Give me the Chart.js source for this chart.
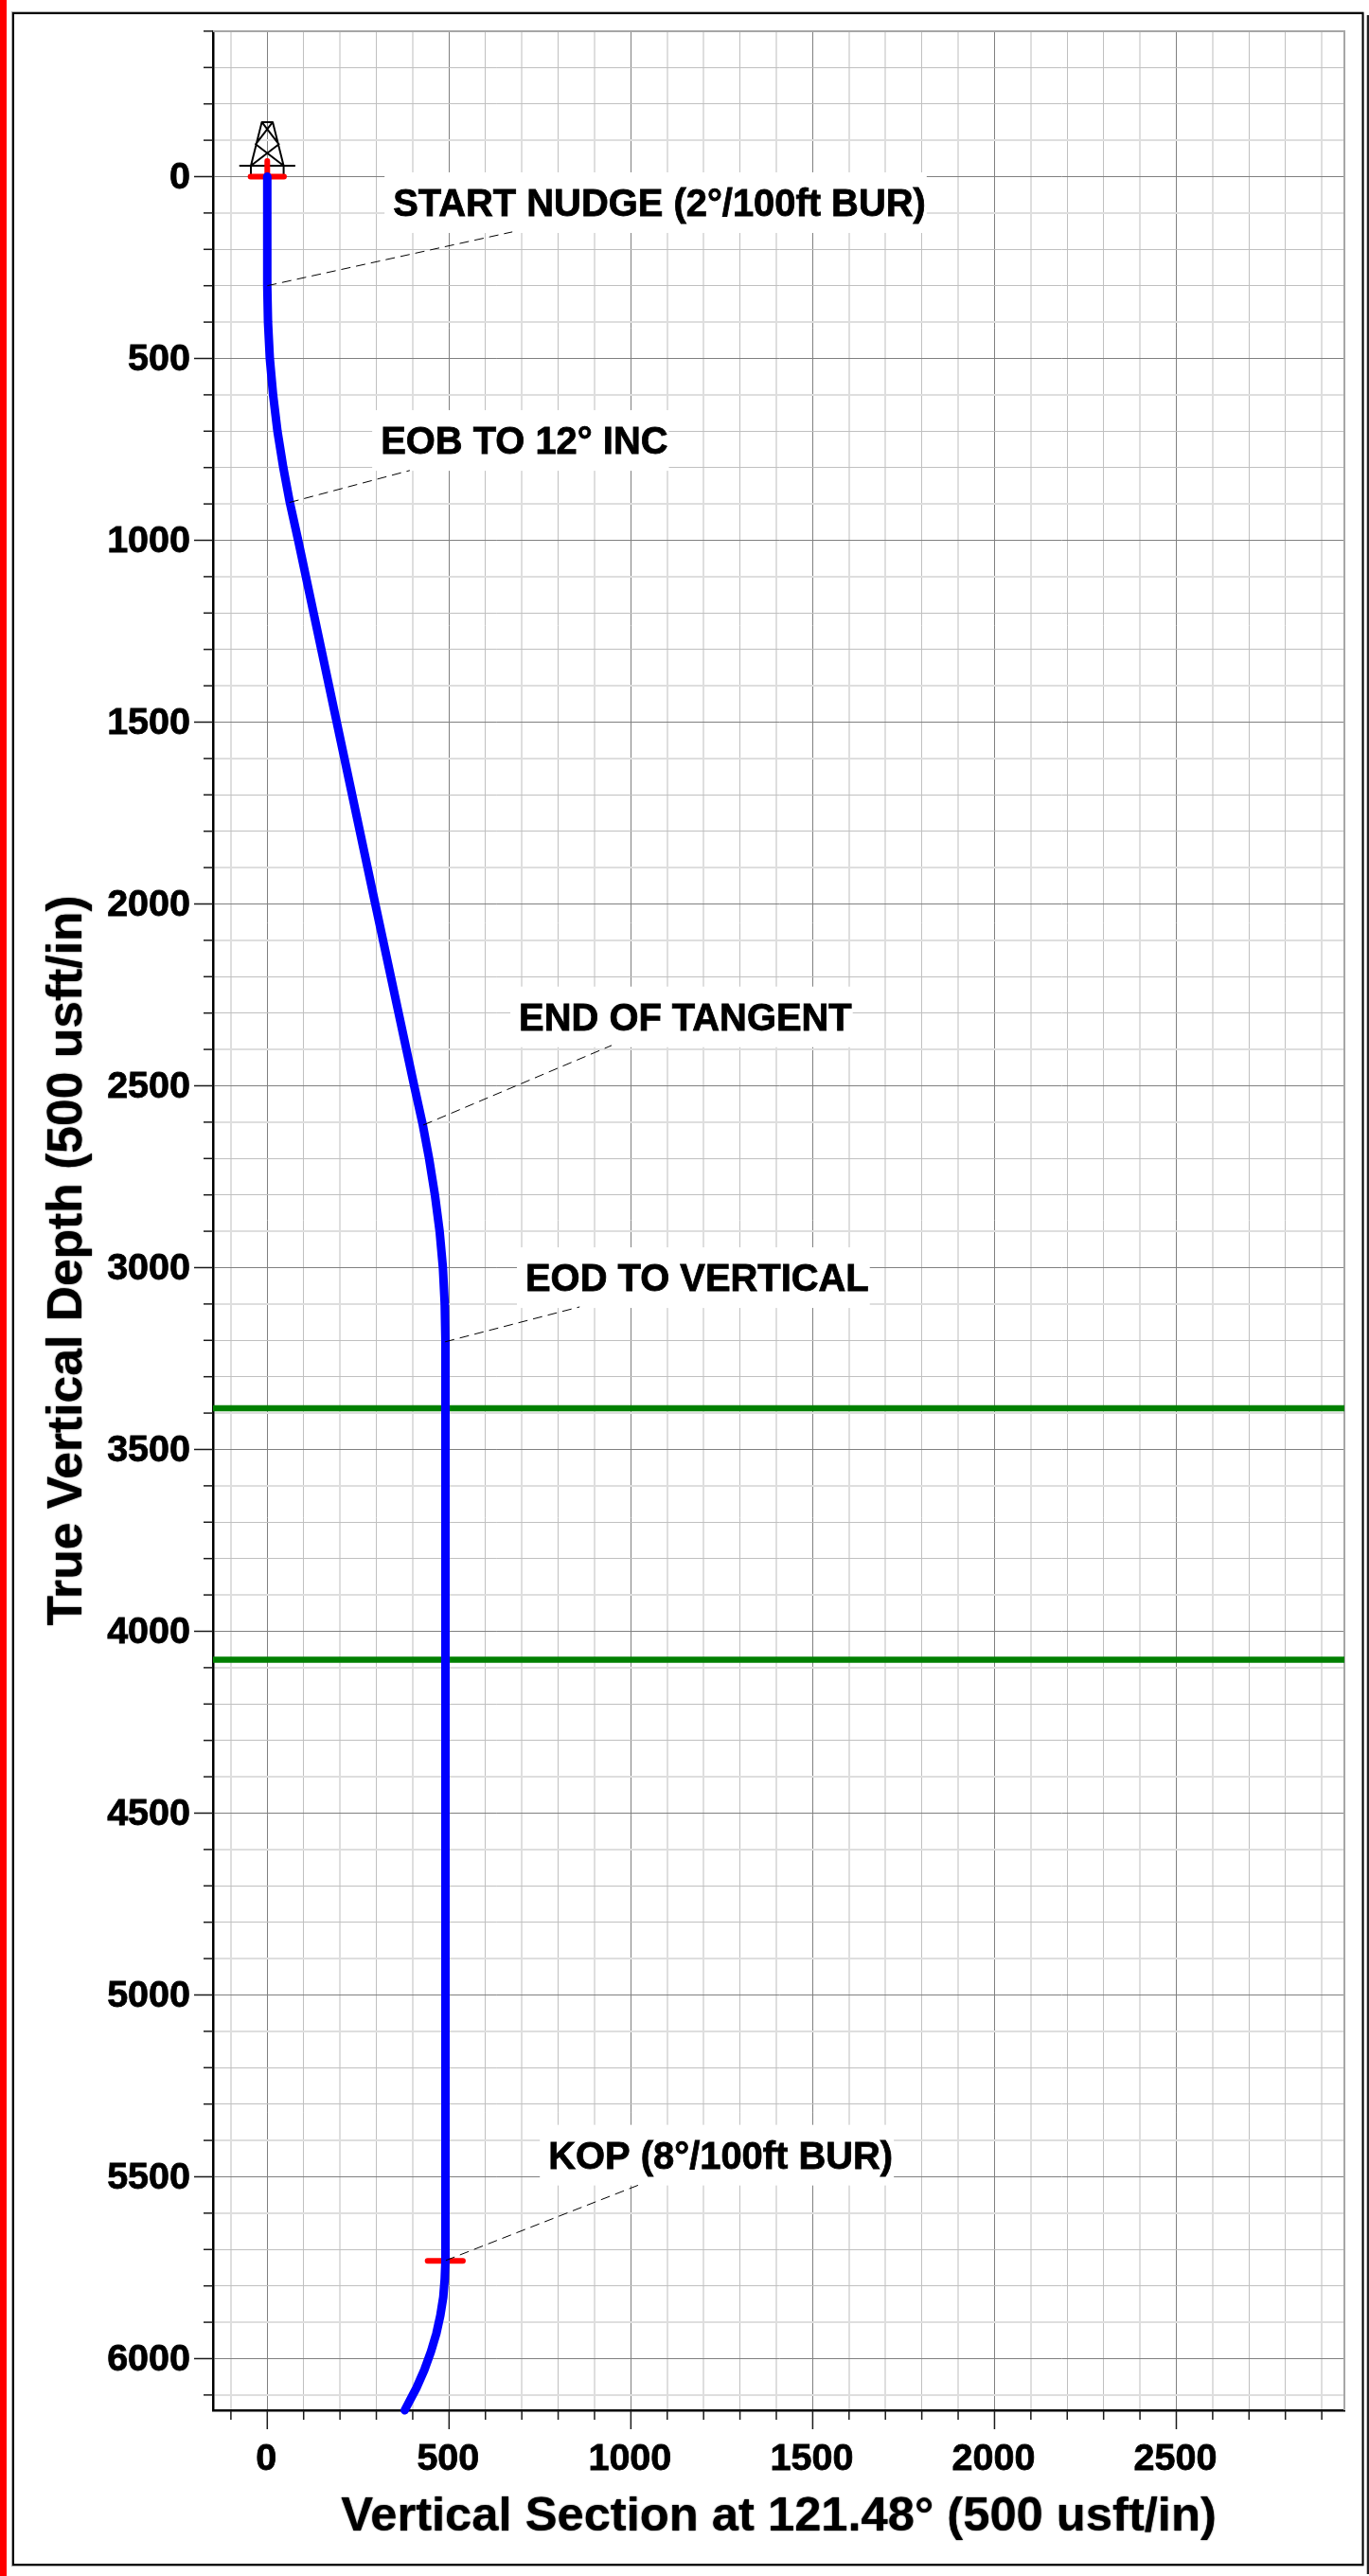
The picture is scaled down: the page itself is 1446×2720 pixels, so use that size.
<!DOCTYPE html>
<html>
<head>
<meta charset="utf-8">
<style>html,body{margin:0;padding:0;background:#fff}canvas{display:block}</style>
<script src="https://cdn.jsdelivr.net/npm/chart.js@4/dist/chart.umd.min.js"></script>
</head>
<body>
<canvas id="c" width="1446" height="2720"></canvas>
<script>
const wellTvd = [0,300,400,500,600,700,800,896,1000,1500,2000,2500,2609,2700,2800,2900,3000,3100,3205,4000,5000,5731,5781,5831,5881,5931,5981,6031,6081,6142];
const wellVs  = [0,0,2,7,16,28,44,62,85,191,297,404,428,445,461,474,483,488,490,490,490,490,488,484,476,465,450,432,410,378];
const formationTvd = [3387,4078];
const kopVs = [441,538];
const kopTvd = 5731;
const surfaceBarVs = [-46,46];
const surfaceStemTvd = [0,-43];
const rigVs  = [-77,77,null,-45,-45,-15,15,45,45,null,-15,32,-45,null,15,-32,45];
const rigTvd = [-30,-30,null,0,-30,-150,-150,-30,0,null,-150,-89,-30,null,-150,-89,-30];
const labelTexts = ["START NUDGE (2°/100ft BUR)","EOB TO 12° INC","END OF TANGENT","EOD TO VERTICAL","KOP (8°/100ft BUR)"];
const labelVs  = [346,312,692,710,773];
const labelTvd = [108,762,2347,3064,5477];
const leaderVs  = [[0,674],[61,392],[429,947],[489,859],[491,1023]];
const leaderTvd = [[300,152],[896,808],[2608,2389],[3204,3108],[5730,5522]];
const xTitle = "Vertical Section at 121.48° (500 usft/in)";
const yTitle = "True Vertical Depth (500 usft/in)";
const xRange = [-149.2,2962.2];
const yRange = [-400,6142];
const minorStep = 100, majorStep = 500;

const FONT = '"Liberation Sans", Arial, sans-serif';
const pts = (xs,ys)=>xs.map((x,i)=>({x,y:ys[i]}));
const leaderPoints = [];
leaderVs.forEach((xs,i)=>{ leaderPoints.push(...pts(xs,leaderTvd[i])); if(i<leaderVs.length-1) leaderPoints.push({x:null,y:null}); });
const redPoints = [
  ...pts(surfaceBarVs,[0,0]),{x:null,y:null},
  ...pts([0,0],surfaceStemTvd),{x:null,y:null},
  ...pts(kopVs,[kopTvd,kopTvd])
];
const greenPoints = [];
formationTvd.forEach((t,i)=>{ greenPoints.push({x:xRange[0],y:t},{x:xRange[1],y:t}); if(i===0) greenPoints.push({x:null,y:null}); });

const gridStyle = (ctx,major,wide,narrow)=>{
  if(ctx.tick.value % majorStep===0) return major;
  const p = ctx.scale.getPixelForValue(ctx.tick.value);
  const d = Math.abs(p-Math.floor(p)-0.5);
  return d>=0.25 ? wide : narrow;
};
const tickLabel = v => v % majorStep===0 ? String(v) : '';

const decor = {
  id:'decor',
  afterLayout(chart){
    const wrap = (s,dy)=>{
      if(s._wrapped) return;
      const orig = s.drawTitle;
      s.drawTitle = function(){
        const c = this.ctx; c.save(); c.translate(0,dy);
        c.shadowColor='rgba(0,0,0,0.9)'; c.shadowBlur=1.5;
        orig.call(this); c.restore();
      };
      s._wrapped = true;
    };
    wrap(chart.scales.y,42);
    wrap(chart.scales.x,0);
  },
  beforeDraw(chart){
    const c = chart.ctx;
    c.save();
    c.fillStyle='#fff'; c.fillRect(0,0,1446,2720);
    c.fillStyle='#ff0000'; c.fillRect(0,0,7,2720);
    c.strokeStyle='#aaa'; c.lineWidth=1;
    c.strokeRect(12.5,12.5,1427.5,2697);
    c.strokeStyle='#000'; c.lineWidth=2;
    c.strokeRect(14,14,1425.5,2694);
    c.strokeStyle='#222'; c.lineWidth=2.5;
    c.beginPath(); c.moveTo(1445,16); c.lineTo(1445,2718); c.stroke();
    c.restore();
  },
  beforeDatasetsDraw(chart){
    const c = chart.ctx, a = chart.chartArea, X = chart.scales.x, Y = chart.scales.y;
    c.save();
    c.strokeStyle='#a6a6a6'; c.lineWidth=2;
    c.beginPath(); c.moveTo(a.left,a.top); c.lineTo(a.right,a.top); c.lineTo(a.right,a.bottom); c.stroke();
    c.strokeStyle='#1a1a1a'; c.lineWidth=1.5;
    X.ticks.forEach(t=>{
      const p=X.getPixelForValue(t.value), len=t.value%majorStep===0?20:10;
      c.beginPath(); c.moveTo(p,a.bottom); c.lineTo(p,a.bottom+len); c.stroke();
    });
    Y.ticks.forEach(t=>{
      const p=Y.getPixelForValue(t.value), len=t.value%majorStep===0?20:10;
      c.beginPath(); c.moveTo(a.left,p); c.lineTo(a.left-len,p); c.stroke();
    });
    c.font='bold 39.9px '+FONT;
    c.fillStyle='#fff';
    labelTexts.forEach((t,i)=>{
      const x=X.getPixelForValue(labelVs[i]), y=Y.getPixelForValue(labelTvd[i]), w=c.measureText(t).width;
      c.fillRect(x-9,y-46,w+10,64);
    });
    c.restore();
  },
  afterDatasetsDraw(chart){
    const c = chart.ctx, X = chart.scales.x, Y = chart.scales.y;
    c.save();
    c.font='bold 39.9px '+FONT; c.fillStyle='#000'; c.strokeStyle='#000'; c.lineWidth=0.8; c.textBaseline='alphabetic'; c.textAlign='left';
    labelTexts.forEach((t,i)=>{
      const x=X.getPixelForValue(labelVs[i]), y=Y.getPixelForValue(labelTvd[i]);
      c.fillText(t,x,y); c.strokeText(t,x,y);
    });
    c.restore();
  }
};

new Chart(document.getElementById('c'),{
  type:'line',
  data:{datasets:[
    {label:'Leaders',data:leaderPoints,borderColor:'#000',borderWidth:1,borderDash:[10,6]},
    {label:'Well path',data:pts(wellVs,wellTvd),borderColor:'#0000ff',borderWidth:9,borderCapStyle:'round',borderJoinStyle:'round'},
    {label:'Section markers',data:redPoints,borderColor:'#ff0000',borderWidth:6,borderCapStyle:'round'},
    {label:'Formations',data:greenPoints,borderColor:'#008000',borderWidth:6.5},
    {label:'Rig',data:pts(rigVs,rigTvd),borderColor:'#000',borderWidth:2,borderJoinStyle:'round'}
  ]},
  options:{
    responsive:false,animation:false,devicePixelRatio:1,
    parsing:{xAxisKey:'x',yAxisKey:'y'},
    layout:{padding:{left:0,top:32.9,right:26,bottom:0}},
    elements:{point:{radius:0},line:{tension:0,fill:false}},
    datasets:{line:{clip:false,spanGaps:false}},
    plugins:{legend:{display:false},tooltip:{enabled:false},title:{display:false}},
    scales:{
      x:{
        type:'linear',position:'bottom',min:xRange[0],max:xRange[1],
        afterFit(s){s.height=175;s.paddingLeft=0;s.paddingRight=0;s.paddingTop=0;s.paddingBottom=0;},
        grid:{drawTicks:false,
          color:c=>gridStyle(c,'#808080','#dedede','#c0c0c0'),
          lineWidth:c=>gridStyle(c,1,2,1)},
        border:{display:true,color:'#000',width:2.5},
        ticks:{stepSize:minorStep,includeBounds:false,autoSkip:false,maxRotation:0,minRotation:0,padding:28,labelOffset:-1,color:'#000',
          textStrokeColor:'#000',textStrokeWidth:0.8,
          font:{family:FONT,weight:'bold',size:39.5},callback:tickLabel},
        title:{display:true,text:xTitle,color:'#000',font:{family:FONT,weight:'bold',size:50.7,lineHeight:1},padding:{top:0,bottom:37}}
      },
      y:{
        type:'linear',position:'left',reverse:true,min:yRange[0],max:yRange[1],
        afterFit(s){s.width=225;s.paddingLeft=0;s.paddingRight=0;s.paddingTop=0;s.paddingBottom=0;},
        grid:{drawTicks:false,
          color:c=>gridStyle(c,'#808080','#dedede','#c0c0c0'),
          lineWidth:c=>gridStyle(c,1,2,1)},
        border:{display:true,color:'#000',width:2.5},
        ticks:{stepSize:minorStep,includeBounds:false,autoSkip:false,padding:24,labelOffset:2,color:'#000',
          textStrokeColor:'#000',textStrokeWidth:0.8,
          font:{family:FONT,weight:'bold',size:39.5},callback:tickLabel},
        title:{display:true,text:yTitle,color:'#000',font:{family:FONT,weight:'bold',size:51.6,lineHeight:1},padding:{top:46,bottom:0}}
      }
    }
  },
  plugins:[decor]
});
</script>
</body>
</html>
